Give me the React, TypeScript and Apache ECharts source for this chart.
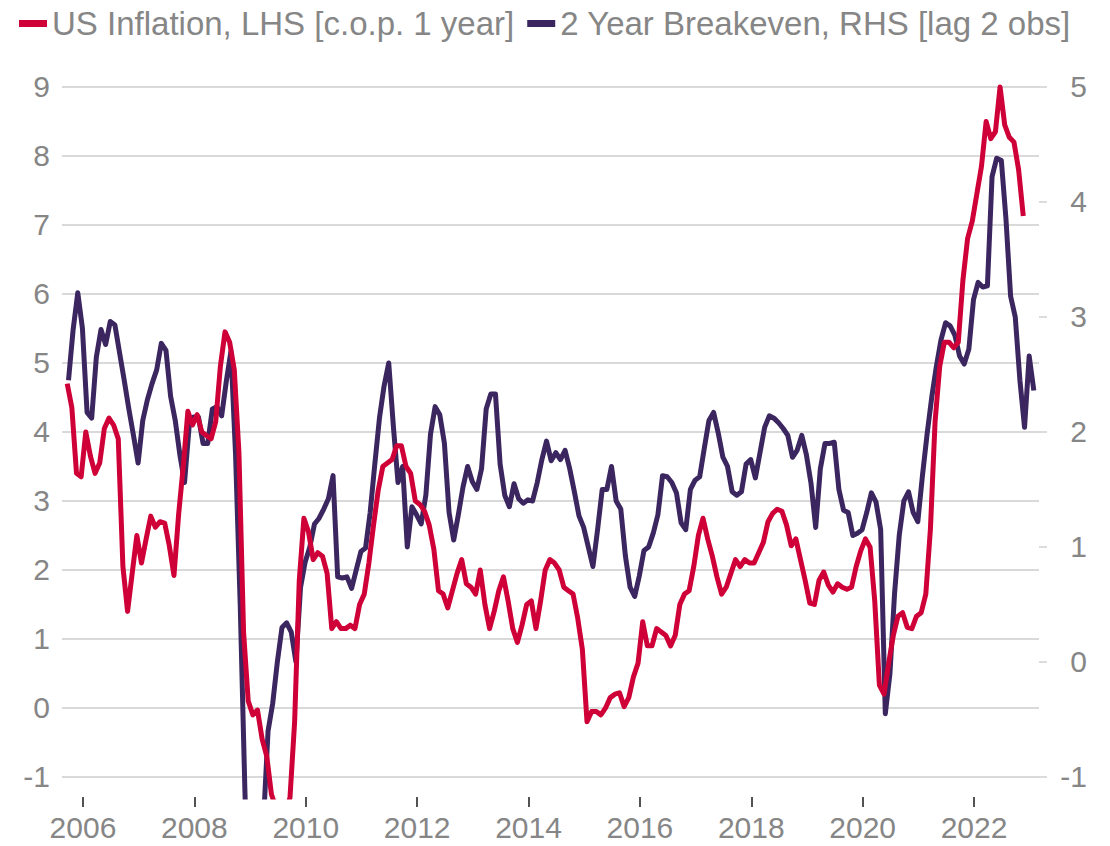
import React, { useEffect, useRef } from "react";
import * as echarts from "echarts";

// ---- Data (monthly, first observation = Sep 2005) ----
const FIRST_YEAR = 2005;
const FIRST_MONTH_INDEX = 8; // September (0-based)

// US CPI inflation, % y/y (LHS)
const inflation: number[] = [
  // 2005 Sep-Dec
  4.7, 4.35, 3.4, 3.35,
  // 2006
  4.0, 3.65, 3.4, 3.55, 4.05, 4.2, 4.1, 3.9, 2.05, 1.4, 1.95, 2.5,
  // 2007
  2.1, 2.45, 2.78, 2.62, 2.7, 2.68, 2.35, 1.92, 2.8, 3.5, 4.3, 4.1,
  // 2008
  4.25, 4.0, 3.95, 3.9, 4.15, 4.95, 5.45, 5.3, 4.9, 3.7, 1.1, 0.1,
  // 2009
  -0.1, -0.03, -0.45, -0.7, -1.25, -1.45, -2.1, -1.5, -1.3, -0.2, 1.85, 2.75,
  // 2010
  2.55, 2.15, 2.25, 2.2, 1.95, 1.15, 1.25, 1.15, 1.15, 1.2, 1.15, 1.5,
  // 2011
  1.65, 2.1, 2.65, 3.15, 3.5, 3.55, 3.6, 3.8, 3.8, 3.5, 3.4, 3.0,
  // 2012
  2.95, 2.85, 2.65, 2.3, 1.7, 1.65, 1.45, 1.7, 1.95, 2.15, 1.8, 1.75,
  // 2013
  1.65, 2.0, 1.5, 1.15, 1.4, 1.7, 1.9, 1.55, 1.15, 0.95, 1.2, 1.5,
  // 2014
  1.55, 1.15, 1.55, 2.0, 2.15, 2.1, 2.0, 1.75, 1.7, 1.65, 1.3, 0.85,
  // 2015
  -0.2, -0.05, -0.05, -0.1, 0.0, 0.15, 0.2, 0.22, 0.02, 0.15, 0.45, 0.65,
  // 2016
  1.25, 0.9, 0.9, 1.15, 1.1, 1.05, 0.9, 1.05, 1.5, 1.65, 1.7, 2.05,
  // 2017
  2.5, 2.75, 2.45, 2.2, 1.9, 1.65, 1.75, 1.95, 2.15, 2.05, 2.15, 2.1,
  // 2018
  2.1, 2.25, 2.4, 2.7, 2.82, 2.88, 2.85, 2.65, 2.35, 2.45, 2.15, 1.85,
  // 2019
  1.52, 1.5, 1.85, 1.97, 1.78, 1.68, 1.8, 1.75, 1.72, 1.75, 2.05, 2.28,
  // 2020
  2.45, 2.33, 1.55, 0.33, 0.2, 0.65, 1.05, 1.33, 1.38, 1.17, 1.15, 1.33,
  // 2021
  1.38, 1.65, 2.6, 4.15, 4.95, 5.3, 5.3, 5.22, 5.3, 6.2, 6.8, 7.05,
  // 2022 Jan-Nov
  7.45, 7.85, 8.5, 8.25, 8.35, 9.0, 8.45, 8.27, 8.2, 7.8, 7.13,
];

// 2 Year breakeven, % (RHS), lagged 2 observations
const breakeven: number[] = [
  // 2005 Sep-Dec
  2.45, 2.89, 3.21, 2.9,
  // 2006
  2.17, 2.12, 2.65, 2.89, 2.76, 2.96, 2.93, 2.69, 2.45, 2.2, 1.97, 1.73,
  // 2007
  2.1, 2.28, 2.42, 2.54, 2.77, 2.71, 2.31, 2.1, 1.8, 1.56, 2.05, 2.13,
  // 2008
  2.13, 1.9, 1.9, 2.2, 2.22, 2.14, 2.44, 2.7, 1.8, 0.5, -1.1, -2.5,
  // 2009
  -2.8, -2.2, -1.4, -0.6, -0.36, 0.0, 0.3, 0.34, 0.26, 0.0, 0.65, 0.87,
  // 2010
  1.0, 1.2, 1.25, 1.33, 1.42, 1.62, 0.74, 0.73, 0.74, 0.64, 0.8, 0.96,
  // 2011
  0.99, 1.3, 1.72, 2.12, 2.4, 2.6, 2.05, 1.56, 1.7, 1.0, 1.35, 1.28,
  // 2012
  1.2, 1.45, 1.98, 2.22, 2.15, 1.9, 1.3, 1.06, 1.28, 1.52, 1.7, 1.57,
  // 2013
  1.5, 1.68, 2.2, 2.33, 2.33, 1.72, 1.45, 1.35, 1.55, 1.42, 1.38, 1.41,
  // 2014
  1.4, 1.56, 1.76, 1.92, 1.75, 1.82, 1.76, 1.84, 1.68, 1.48, 1.27, 1.17,
  // 2015
  1.0, 0.83, 1.15, 1.5, 1.5, 1.7, 1.4, 1.33, 0.92, 0.65, 0.57, 0.75,
  // 2016
  0.97, 1.0, 1.12, 1.28, 1.62, 1.61, 1.56, 1.47, 1.21, 1.15, 1.5, 1.58,
  // 2017
  1.61, 1.86, 2.1, 2.17, 1.99, 1.78, 1.7, 1.48, 1.45, 1.48, 1.72, 1.76,
  // 2018
  1.6, 1.82, 2.04, 2.14, 2.12, 2.08, 2.03, 1.97, 1.78, 1.84, 1.97, 1.8,
  // 2019
  1.55, 1.17, 1.68, 1.9, 1.9, 1.91, 1.5, 1.32, 1.3, 1.1, 1.12, 1.15,
  // 2020
  1.3, 1.47, 1.39, 1.15, -0.45, -0.1, 0.6, 1.1, 1.4, 1.48, 1.3, 1.22,
  // 2021
  1.62, 1.98, 2.3, 2.57, 2.8, 2.95, 2.92, 2.84, 2.66, 2.59, 2.72, 3.15,
  // 2022
  3.3, 3.26, 3.27, 4.22, 4.38, 4.36, 3.85, 3.18, 3.0, 2.45, 2.04, 2.66,
  // 2023 Jan
  2.36,
];

const xTickYears = [2006, 2008, 2010, 2012, 2014, 2016, 2018, 2020, 2022];
const leftTicks = [-1, 0, 1, 2, 3, 4, 5, 6, 7, 8, 9];
const rightTicks = [-1, 0, 1, 2, 3, 4, 5];

const NAME_INF = "US Inflation, LHS [c.o.p. 1 year]";
const NAME_BE = "2 Year Breakeven, RHS [lag 2 obs]";

const RED = "#CE0037";
const PURPLE = "#3B2660";
const GRAY_TEXT = "#868686";
const FONT = "'Liberation Sans', Arial, Helvetica, sans-serif";

// decimal-year position of the i-th monthly observation
const monthPos = (i: number, shift: number) =>
  FIRST_YEAR + (FIRST_MONTH_INDEX + i) / 12 + shift;

export default function App() {
  const ref = useRef<HTMLDivElement>(null);

  useEffect(() => {
    if (!ref.current) return;
    const chart = echarts.init(ref.current, undefined, { renderer: "svg" });

    const infData = inflation.map((v, i) => [monthPos(i, 0.05), v]);
    const beData = breakeven.map((v, i) => [monthPos(i, 0.073), v]);

    const option: any = {
      animation: false,
      backgroundColor: "#ffffff",
      textStyle: { fontFamily: FONT },
      legend: {
        data: [NAME_INF, NAME_BE],
        top: 2,
        left: 14,
        itemWidth: 28,
        itemHeight: 7,
        itemGap: 13,
        icon: "rect",
        textStyle: { fontSize: 33, color: GRAY_TEXT, fontFamily: FONT },
      },
      grid: {
        left: 62,
        right: 71,
        top: 80,
        bottom: 49,
        containLabel: false,
        outerBoundsMode: "none",
      },
      xAxis: {
        type: "value",
        min: 2005.623,
        max: 2023.166,
        splitLine: { show: false },
        axisLine: { show: false, onZero: false },
        axisTick: {
          show: true,
          length: 10,
          customValues: xTickYears,
          lineStyle: { color: "#1a1a1a", width: 1.5 },
        },
        axisLabel: {
          customValues: xTickYears,
          fontSize: 30,
          color: GRAY_TEXT,
          fontFamily: FONT,
          margin: 15,
          formatter: (v: number) => String(Math.round(v)),
        },
      },
      yAxis: [
        {
          type: "value",
          position: "left",
          min: -1.29,
          max: 9.1,
          splitNumber: 10,
          axisLine: { show: false },
          axisTick: { show: false },
          axisLabel: {
            customValues: leftTicks,
            fontSize: 30,
            color: GRAY_TEXT,
            fontFamily: FONT,
            margin: 12,
          },
          splitLine: {
            show: true,
            showMinLine: false,
            showMaxLine: false,
            lineStyle: { color: "#d9d9d9", width: 2 },
          },
        },
        {
          type: "value",
          position: "right",
          min: -1.174,
          max: 5.06,
          splitNumber: 6,
          axisLine: { show: false },
          axisTick: {
            show: true,
            length: 8,
            customValues: rightTicks,
            lineStyle: { color: "#d0d0d0", width: 1.5 },
          },
          axisLabel: {
            customValues: rightTicks,
            fontSize: 30,
            color: GRAY_TEXT,
            fontFamily: FONT,
            align: "right",
            margin: 48,
          },
          splitLine: { show: false },
        },
      ],
      series: [
        {
          name: NAME_BE,
          type: "line",
          yAxisIndex: 1,
          data: beData,
          symbol: "none",
          showSymbol: false,
          lineStyle: { width: 5, color: PURPLE, join: "round" },
          itemStyle: { color: PURPLE },
          z: 2,
        },
        {
          name: NAME_INF,
          type: "line",
          yAxisIndex: 0,
          data: infData,
          symbol: "none",
          showSymbol: false,
          lineStyle: { width: 5, color: RED, join: "round" },
          itemStyle: { color: RED },
          z: 3,
        },
      ],
    };

    chart.setOption(option);
    return () => chart.dispose();
  }, []);

  return (
    <div
      ref={ref}
      style={{
        position: "fixed",
        left: 0,
        top: 0,
        width: 1110,
        height: 846,
        background: "#fff",
      }}
    />
  );
}
